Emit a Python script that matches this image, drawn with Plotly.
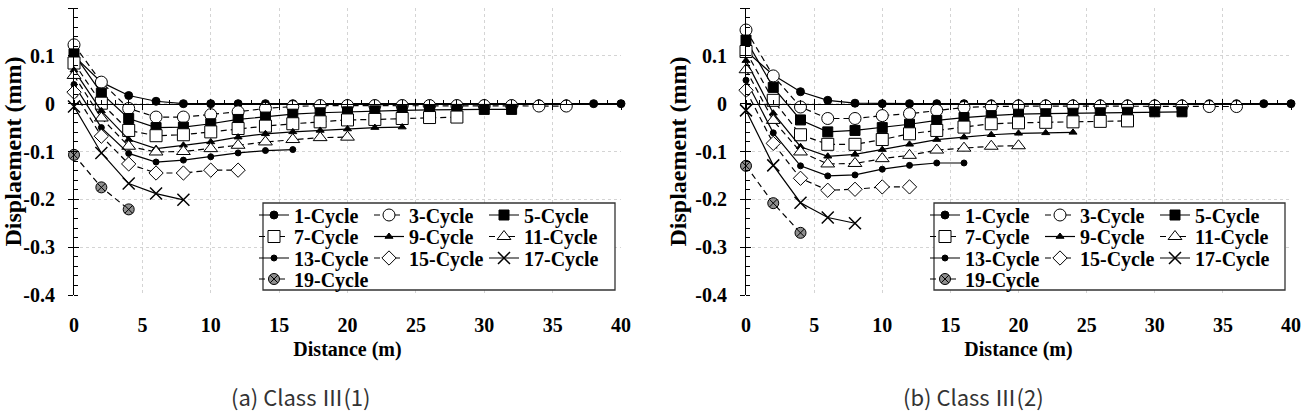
import plotly.graph_objects as go

# ---------------- data ----------------
distance = [0, 2, 4, 6, 8, 10, 12, 14, 16, 18, 20, 22, 24, 26, 28, 30, 32, 34, 36, 38, 40]
series_names = ["1-Cycle", "3-Cycle", "5-Cycle", "7-Cycle", "9-Cycle",
                "11-Cycle", "13-Cycle", "15-Cycle", "17-Cycle", "19-Cycle"]

# (a) Class III(1)
a_cycle1 = [0.100, 0.045, 0.017, 0.005, 0.000, 0.000, 0.000, 0.000, 0.000, 0.000, 0.000,
            0.000, 0.000, 0.000, 0.000, 0.000, 0.000, 0.000, 0.000, 0.000, 0.000]
a_cycle3 = [0.123, 0.045, -0.010, -0.028, -0.028, -0.023, -0.017, -0.010, -0.006, -0.004,
            -0.004, -0.004, -0.004, -0.004, -0.004, -0.004, -0.004, -0.005, -0.005]
a_cycle5 = [0.104, 0.022, -0.031, -0.050, -0.049, -0.042, -0.033, -0.028, -0.022, -0.019,
            -0.017, -0.015, -0.014, -0.013, -0.012, -0.012, -0.012]
a_cycle7 = [0.085, 0.001, -0.056, -0.067, -0.065, -0.059, -0.052, -0.047, -0.042, -0.038,
            -0.034, -0.033, -0.031, -0.029, -0.028]
a_cycle9 = [0.070, -0.015, -0.075, -0.094, -0.087, -0.080, -0.070, -0.063, -0.059, -0.056,
            -0.053, -0.050, -0.049]
a_cycle11 = [0.059, -0.030, -0.089, -0.101, -0.100, -0.094, -0.087, -0.080, -0.075, -0.071, -0.070]
a_cycle13 = [0.040, -0.050, -0.104, -0.122, -0.118, -0.111, -0.103, -0.098, -0.096]
a_cycle15 = [0.024, -0.068, -0.126, -0.145, -0.145, -0.139, -0.139]
a_cycle17 = [-0.006, -0.103, -0.167, -0.188, -0.201]
a_cycle19 = [-0.107, -0.175, -0.221]

# (b) Class III(2)
b_cycle1 = [0.110, 0.060, 0.025, 0.007, 0.001, 0.000, 0.000, 0.000, 0.000, 0.000, 0.000,
            0.000, 0.000, 0.000, 0.000, 0.000, 0.000, 0.000, 0.000, 0.000, 0.000]
b_cycle3 = [0.154, 0.058, -0.007, -0.031, -0.031, -0.025, -0.021, -0.014, -0.008, -0.006,
            -0.005, -0.005, -0.005, -0.005, -0.005, -0.005, -0.005, -0.006, -0.006]
b_cycle5 = [0.133, 0.034, -0.034, -0.059, -0.056, -0.050, -0.043, -0.035, -0.029, -0.025,
            -0.022, -0.021, -0.020, -0.019, -0.018, -0.017, -0.017]
b_cycle7 = [0.109, 0.007, -0.065, -0.085, -0.085, -0.075, -0.063, -0.056, -0.049, -0.042,
            -0.040, -0.039, -0.038, -0.037, -0.036]
b_cycle9 = [0.090, -0.020, -0.090, -0.110, -0.106, -0.096, -0.085, -0.075, -0.070, -0.065,
            -0.062, -0.061, -0.060]
b_cycle11 = [0.071, -0.035, -0.101, -0.126, -0.125, -0.115, -0.108, -0.097, -0.093, -0.089, -0.088]
b_cycle13 = [0.049, -0.061, -0.130, -0.151, -0.149, -0.137, -0.129, -0.124, -0.124]
b_cycle15 = [0.028, -0.083, -0.156, -0.181, -0.179, -0.174, -0.174]
b_cycle17 = [-0.014, -0.129, -0.207, -0.238, -0.250]
b_cycle19 = [-0.130, -0.208, -0.270]

x_tick_vals = [0, 5, 10, 15, 20, 25, 30, 35, 40]
x_tick_text = ["0", "5", "10", "15", "20", "25", "30", "35", "40"]
y_tick_vals = [0.2, 0.1, 0.0, -0.1, -0.2, -0.3, -0.4]
y_tick_text = ["0.2", "0.1", "0", "-0.1", "-0.2", "-0.3", "-0.4"]

captions = ["(a) Class \u2162(1)", "(b) Class \u2162(2)"]
x_title = "Distance (m)"
y_title = "Displaement (mm)"

panel_a = [a_cycle1, a_cycle3, a_cycle5, a_cycle7, a_cycle9,
           a_cycle11, a_cycle13, a_cycle15, a_cycle17, a_cycle19]
panel_b = [b_cycle1, b_cycle3, b_cycle5, b_cycle7, b_cycle9,
           b_cycle11, b_cycle13, b_cycle15, b_cycle17, b_cycle19]

# ---------------- styles ----------------
W, H = 1302, 416
SERIF = "Liberation Serif"
BLACK = "black"
GRID = "#d4d4d4"

# symbol, size, fill, line dash
styles = [
    ("circle", 8, BLACK, "solid"),
    ("circle", 12, "white", "6px,4px"),
    ("square", 10, BLACK, "solid"),
    ("square", 12, "white", "6px,4px"),
    ("triangle-up", 7, BLACK, "solid"),
    ("triangle-up", 12, "white", "6px,4px"),
    ("circle", 6, BLACK, "solid"),
    ("diamond", 11, "white", "6px,4px"),
    ("x-thin", 12, BLACK, "solid"),
    ("circle-x", 11, "#8f8f8f", "6px,4px"),
]

X_DOMS = [[74 / W, 621 / W], [746 / W, 1291 / W]]
Y_DOM = [1 - 295 / H, 1 - 8 / H]
Y_RANGE = [-0.4, 0.2]
X_RANGE = [0, 40]
zero_pos = Y_DOM[0] + (0 - Y_RANGE[0]) / (Y_RANGE[1] - Y_RANGE[0]) * (Y_DOM[1] - Y_DOM[0])

TICK_SIZE = 20
base_font = dict(family=SERIF, size=20, color=BLACK, weight="bold")
tick_font = dict(family=SERIF, size=TICK_SIZE, color=BLACK, weight="bold")
xtitle_font = dict(family=SERIF, size=20, color=BLACK, weight="bold")
ytitle_font = dict(family=SERIF, size=24, color=BLACK, weight="bold")
legend_font = dict(family=SERIF, size=20, color=BLACK, weight="bold")


def tick_label(t):
    return (f"<span style='font-family:{SERIF};font-size:{TICK_SIZE}px;"
            f"font-weight:bold'>{t}</span>")


fig = go.Figure()

# legend layout: rows of 3 entries; box positions in px
legend_box_left = [263, 934]
legend_box_right = [615, 1285]
legend_box_top, legend_box_bottom = 203, 290
row_centers = [215, 236.5, 258, 279]

layout_extra = {}
legend_id = 0
for p, panel in enumerate([panel_a, panel_b]):
    xa = "x" if p == 0 else "x2"
    ya = "y" if p == 0 else "y2"
    leg_names = []
    for r in range(4):
        legend_id += 1
        name = "legend" if legend_id == 1 else f"legend{legend_id}"
        leg_names.append(name)
        layout_extra[name] = dict(
            orientation="h", x=(legend_box_left[p] - 9) / W, xanchor="left",
            y=1 - row_centers[r] / H, yanchor="middle",
            bgcolor="rgba(0,0,0,0)", borderwidth=0, font=dict(legend_font),
            entrywidth=70, itemwidth=30, tracegroupgap=0,
        )
    for i, vals in enumerate(panel):
        sym, size, fill, dash = styles[i]
        marker = dict(symbol=sym, size=size, color=fill,
                      line=dict(color=BLACK, width=1.5 if sym == "x-thin" else 1))
        last_in_row = (i % 3 == 2) or (i == len(panel) - 1)
        fig.add_trace(go.Scatter(
            x=distance[:len(vals)], y=vals, name=series_names[i],
            mode="lines+markers", xaxis=xa, yaxis=ya,
            line=dict(color=BLACK, width=1.2, dash=dash),
            marker=marker, cliponaxis=False,
            legend=leg_names[i // 3], showlegend=True,
            legendwidth=84 if last_in_row else 70,
        ))

# axes
axis_ids = [("xaxis", "yaxis", "x", "y", "xaxis3", "xaxis5", "yaxis3", "x3", "x5", "y3"),
            ("xaxis2", "yaxis2", "x2", "y2", "xaxis4", "xaxis6", "yaxis4", "x4", "x6", "y4")]
for p, (xk, yk, xr, yr, xz1, xz2, yo, xz1r, xz2r, yor) in enumerate(axis_ids):
    layout_extra[xk] = dict(
        domain=X_DOMS[p], range=X_RANGE, anchor=yr, tickmode="array",
        tickvals=x_tick_vals, ticktext=[tick_label(t) for t in x_tick_text],
        tickfont=dict(tick_font),
        showgrid=True, gridcolor=GRID, griddash="dot", gridwidth=1,
        showline=False, zeroline=False, ticks="", ticklabelstandoff=16,
        title=dict(text=x_title, font=dict(xtitle_font), standoff=6), automargin=False,
    )
    layout_extra[yk] = dict(
        domain=Y_DOM, range=Y_RANGE, anchor=xr, tickmode="array",
        tickvals=y_tick_vals, ticktext=[tick_label(t) for t in y_tick_text],
        tickfont=dict(tick_font),
        showgrid=True, gridcolor=GRID, griddash="dot", gridwidth=1,
        showline=True, linecolor=BLACK, linewidth=1, zeroline=False,
        ticks="outside", ticklen=5, tickcolor=BLACK, tickwidth=1,
        minor=dict(ticks="inside", ticklen=4, tickmode="linear", tick0=0, dtick=0.02,
                   tickcolor=BLACK, tickwidth=1, showgrid=False),
        ticklabelstandoff=9,
        title=dict(text=y_title, font=dict(ytitle_font), standoff=1), automargin=False,
    )
    # inner part of crossing major ticks on y axis
    layout_extra[yo] = dict(
        overlaying=yr, anchor=xr, side="left", range=Y_RANGE, tickmode="array",
        tickvals=y_tick_vals, showticklabels=False, ticks="inside", ticklen=5,
        tickcolor=BLACK, showgrid=False, zeroline=False, showline=False,
    )
    # horizontal axis line at zero with ticks
    layout_extra[xz1] = dict(
        overlaying=xr, anchor="free", position=zero_pos, range=X_RANGE,
        tickmode="array", tickvals=x_tick_vals, showticklabels=False,
        ticks="outside", ticklen=5, tickcolor=BLACK,
        minor=dict(ticks="inside", ticklen=4, tickmode="linear", tick0=0, dtick=1,
                   tickcolor=BLACK, showgrid=False),
        showline=True, linecolor=BLACK, linewidth=1, showgrid=False, zeroline=False,
    )
    layout_extra[xz2] = dict(
        overlaying=xr, anchor="free", position=zero_pos, range=X_RANGE,
        tickmode="array", tickvals=x_tick_vals, showticklabels=False,
        ticks="inside", ticklen=5, tickcolor=BLACK,
        showline=False, showgrid=False, zeroline=False,
    )
    for xa_, ya_ in [(xz1r, yr), (xz2r, yr), (xr, yor)]:
        fig.add_trace(go.Scatter(x=[None], y=[None], xaxis=xa_, yaxis=ya_,
                                 showlegend=False, hoverinfo="skip", mode="markers"))

shapes = []
for p in range(2):
    shapes.append(dict(
        type="rect", xref="paper", yref="paper",
        x0=legend_box_left[p] / W, x1=legend_box_right[p] / W,
        y0=1 - legend_box_bottom / H, y1=1 - legend_box_top / H,
        line=dict(color="#333333", width=1.3), fillcolor="white", layer="above",
    ))

annotations = []
caption_x = [300, 973]
for p in range(2):
    annotations.append(dict(
        text=captions[p], xref="paper", yref="paper", x=caption_x[p] / W, y=1 - 396 / H,
        xanchor="center", yanchor="middle", showarrow=False,
        font=dict(family="Noto Sans CJK KR", size=22, color="#333333", weight="normal"),
    ))

fig.update_layout(
    width=W, height=H, margin=dict(l=0, r=0, t=0, b=0),
    paper_bgcolor="white", plot_bgcolor="white", font=base_font,
    shapes=shapes, annotations=annotations, **layout_extra,
)

fig.write_html("out.html")
